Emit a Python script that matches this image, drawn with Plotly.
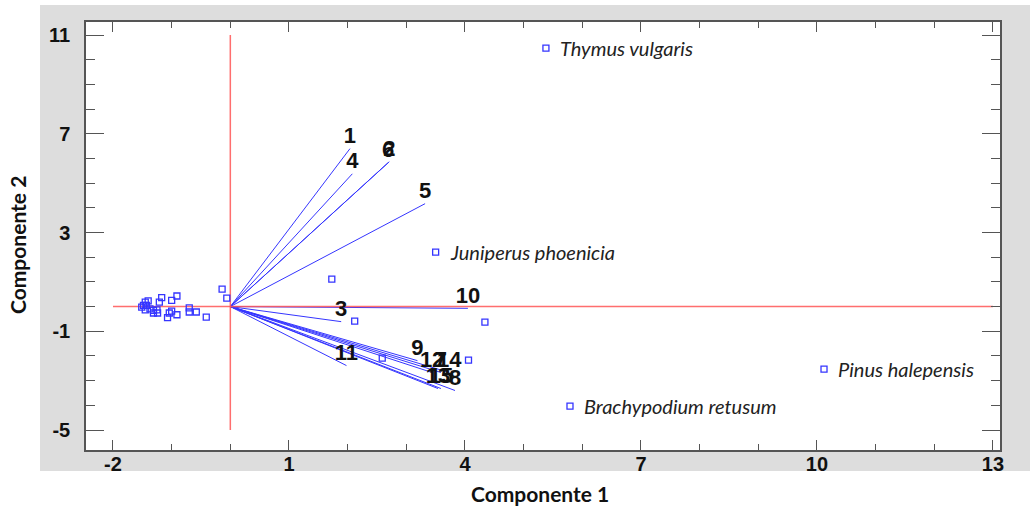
import plotly.graph_objects as go

# ---------------- data ----------------
# observation scores (unlabelled)
obs_x = [-1.45, -1.40, -1.48, -1.51, -1.43, -1.45, -1.37, -1.31, -1.25, -1.31, -1.24,
         -1.21, -1.17, -1.00, -0.91, -1.00, -1.04, -1.07, -0.91, -0.70, -0.70, -0.58,
         -0.41, -0.14, -0.06, 1.73, 2.12, 4.34, 2.59, 4.06]
obs_y = [0.18, 0.23, 0.05, -0.02, 0.05, -0.13, -0.09, -0.15, -0.13, -0.26, -0.26,
         0.18, 0.36, 0.25, 0.43, -0.18, -0.26, -0.45, -0.33, -0.05, -0.22, -0.22,
         -0.43, 0.71, 0.34, 1.11, -0.59, -0.63, -2.09, -2.17]

# labelled observations (species)
species = ["Thymus vulgaris", "Juniperus phoenicia", "Pinus halepensis", "Brachypodium retusum"]
species_x = [5.38, 3.50, 10.12, 5.79]
species_y = [10.47, 2.21, -2.53, -4.03]

# variable loadings (vectors from origin)
var_labels = ["1", "2", "3", "4", "5", "6", "7", "8", "9", "10", "11", "12", "13", "14", "15"]
var_x = [2.04, 2.71, 1.89, 2.08, 3.32, 2.69, 3.59, 3.83, 3.19, 4.05, 1.98, 3.44, 3.54, 3.73, 3.59]
var_y = [6.40, 5.87, -0.61, 5.38, 4.17, 5.83, -2.67, -3.40, -2.19, -0.07, -2.39, -2.67, -3.32, -2.67, -3.32]

# reference (zero) lines extents
hline_x = [-2, 13]
vline_y = [-5, 11]

# axis ticks
x_range = [-2.46, 13.12]
y_range = [-5.81, 11.53]
x_ticks = [-2, 1, 4, 7, 10, 13]
y_ticks = [-5, -1, 3, 7, 11]

# ---------------- figure ----------------
BLUE = "#3535ff"
RED = "#ff5555"
GRAY = "#dddddd"

fig = go.Figure()

# vectors
vx, vy = [], []
for x, y in zip(var_x, var_y):
    vx += [0, x, None]
    vy += [0, y, None]
fig.add_trace(go.Scatter(x=vx, y=vy, mode="lines",
                         line=dict(color=BLUE, width=1), hoverinfo="skip"))

# red zero lines
fig.add_trace(go.Scatter(x=hline_x, y=[0, 0], mode="lines",
                         line=dict(color=RED, width=1.5), opacity=0.85, hoverinfo="skip"))
fig.add_trace(go.Scatter(x=[0, 0], y=vline_y, mode="lines",
                         line=dict(color=RED, width=1.5), opacity=0.85, hoverinfo="skip"))

# vector labels
fig.add_trace(go.Scatter(x=var_x, y=var_y, mode="text",
                         text=[f"<b>{t}</b>" for t in var_labels],
                         textposition="top center",
                         textfont=dict(family="Liberation Sans, Arial", size=22, color="#111111"),
                         hoverinfo="skip"))

# observations
fig.add_trace(go.Scatter(x=obs_x + species_x, y=obs_y + species_y, mode="markers",
                         marker=dict(symbol="square-open", size=6, color=BLUE,
                                     line=dict(width=1.3, color=BLUE))))

# species labels
for s, x, y in zip(species, species_x, species_y):
    fig.add_annotation(x=x, y=y, text=f"<i>{s}</i>", showarrow=False,
                       xanchor="left", yanchor="middle", xshift=12,
                       font=dict(family="Lato, Open Sans", size=20, color="#222222"))

# axis titles
fig.add_annotation(x=0.497, y=-0.1005, xref="paper", yref="paper", text="<b>Componente 1</b>",
                   showarrow=False, xanchor="center", yanchor="middle",
                   font=dict(family="Lato, Open Sans", size=21, color="#111111"))
fig.add_annotation(x=-0.0744, y=0.479, xref="paper", yref="paper", text="<b>Componente 2</b>",
                   showarrow=False, textangle=-90, xanchor="center", yanchor="middle",
                   font=dict(family="Lato, Open Sans", size=21, color="#111111"))

# white strips around the gray panel
strips = [
    (-0.0941, -0.0503, -0.1355, 1.0514),   # left
    (-0.0941, 1.05, 1.0397, 1.0514),       # top
    (-0.0941, 1.05, -0.1355, -0.0491),     # bottom
]
for x0, x1, y0, y1 in strips:
    fig.add_shape(type="rect", xref="paper", yref="paper", x0=x0, x1=x1, y0=y0, y1=y1,
                  fillcolor="white", line=dict(width=0), layer="below")

tickfont = dict(family="Liberation Sans Narrow, Liberation Sans, Arial", size=20, color="#111111")

fig.update_xaxes(range=x_range, tickmode="array", tickvals=x_ticks,
                 ticktext=[f"<b>{t}</b>" for t in x_ticks],
                 ticks="inside", ticklen=10, tickwidth=1.3, tickcolor="#555555",
                 showline=True, linecolor="#555555", linewidth=1.5, mirror="ticks",
                 showgrid=False, zeroline=False, tickfont=tickfont, ticklabelstandoff=-5,
                 minor=dict(dtick=1, tick0=-2, ticks="inside", ticklen=6, tickwidth=1.2,
                            tickcolor="#555555", showgrid=False))
fig.update_yaxes(range=y_range, tickmode="array", tickvals=y_ticks,
                 ticktext=[f"<b>{t}</b>" for t in y_ticks],
                 ticks="inside", ticklen=18, tickwidth=1.3, tickcolor="#555555",
                 showline=True, linecolor="#555555", linewidth=1.5, mirror="ticks",
                 showgrid=False, zeroline=False, tickfont=tickfont, ticklabelstandoff=10,
                 minor=dict(dtick=1, tick0=-5, ticks="inside", ticklen=9, tickwidth=1.2,
                            tickcolor="#555555", showgrid=False))

fig.update_layout(width=1030, height=508, showlegend=False,
                  margin=dict(l=86, r=30, t=22, b=58),
                  paper_bgcolor=GRAY, plot_bgcolor="white")

fig.write_html("out.html")
